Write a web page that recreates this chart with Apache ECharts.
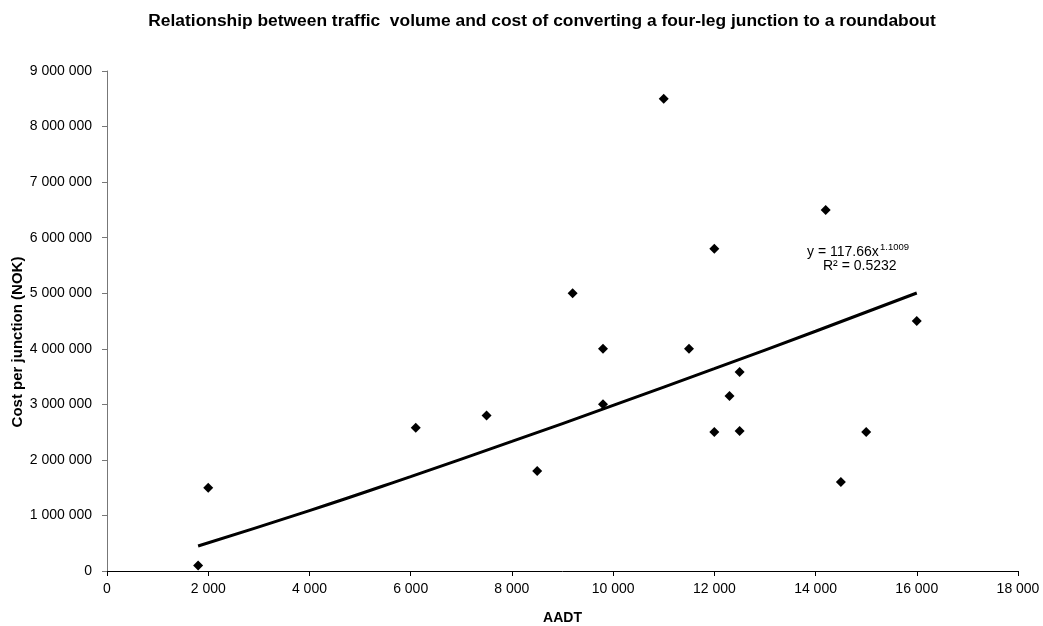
<!DOCTYPE html>
<html>
<head>
<meta charset="utf-8">
<script src="https://cdn.jsdelivr.net/npm/echarts@6/dist/echarts.min.js"></script>
<style>html,body{margin:0;padding:0;background:#fff}#c{width:1043px;height:626px}</style>
</head>
<body>
<div id="c"></div>
<script>
const aadt = [1800, 2000, 6100, 7500, 8500, 9200, 9800, 9800, 11000, 11500, 12000, 12000, 12300, 12500, 12500, 14200, 14500, 15000, 16000];
const cost = [100000, 1500000, 2580000, 2800000, 1800000, 5000000, 4000000, 3000000, 8500000, 4000000, 5800000, 2500000, 3150000, 3580000, 2520000, 6500000, 1600000, 2500000, 4500000];
const trendX = [1800, 4000, 6000, 8000, 10000, 12000, 14000, 16000];
const trendY = [451000, 1087000, 1700000, 2332000, 2980000, 3642000, 4316000, 5004000];
const title = 'Relationship between traffic  volume and cost of converting a four-leg junction to a roundabout';
const xName = 'AADT';
const yName = 'Cost per junction (NOK)';
const eqMain = 'y = 117.66x';
const eqSup = '1.1009';
const r2 = 'R² = 0.5232';

function fmt(v){ return String(Math.round(v)).replace(/\B(?=(\d{3})+(?!\d))/g, ' '); }

const chart = echarts.init(document.getElementById('c'));
const font = '"Liberation Sans", Arial, sans-serif';
chart.setOption({
  animation: false,
  backgroundColor: '#fff',
  textStyle: { fontFamily: font },
  title: { text: title, left: 537, top: 8, textAlign: 'center',
    textStyle: { fontSize: 17.4, fontWeight: 'bold', color: '#000', fontFamily: font } },
  grid: { left: 107, right: 25, top: 71, bottom: 55, outerBoundsMode: 'none', containLabel: false },
  xAxis: {
    type: 'value', min: 0, max: 18000, interval: 2000,
    name: xName, nameLocation: 'middle', nameGap: 40,
    nameTextStyle: { fontSize: 14, fontWeight: 'bold', color: '#000', fontFamily: font },
    axisLine: { lineStyle: { color: '#000', width: 1 } },
    axisTick: { show: true, length: 5, lineStyle: { color: '#000' } },
    axisLabel: { fontSize: 14, color: '#000', margin: 11, formatter: fmt, fontFamily: font },
    splitLine: { show: false }
  },
  yAxis: {
    type: 'value', min: 0, max: 9000000, interval: 1000000,
    axisLine: { show: true, lineStyle: { color: '#777', width: 1 } },
    axisTick: { show: true, length: 5, lineStyle: { color: '#777' } },
    axisLabel: { fontSize: 14, color: '#000', margin: 15, formatter: fmt, fontFamily: font },
    splitLine: { show: false }
  },
  series: [
    { type: 'line', data: trendX.map((x, i) => [x, trendY[i]]), smooth: true, showSymbol: false,
      lineStyle: { color: '#000', width: 3 }, z: 2 },
    { type: 'scatter', data: aadt.map((x, i) => [x, cost[i]]), symbol: 'diamond', symbolSize: [10, 10],
      itemStyle: { color: '#000', opacity: 1 }, z: 3 }
  ],
  graphic: [
    { type: 'text', x: 18, y: 342, rotation: Math.PI / 2, style: { text: yName, fontSize: 15, fontWeight: 'bold',
      fontFamily: font, fill: '#000', textAlign: 'center', textVerticalAlign: 'middle' } },
    { type: 'text', x: 807, y: 245, style: { text: eqMain, fontSize: 14, fontFamily: font, fill: '#000' } },
    { type: 'text', x: 880, y: 242, style: { text: eqSup, fontSize: 9.5, fontFamily: font, fill: '#000' } },
    { type: 'text', x: 823, y: 259, style: { text: r2, fontSize: 14, fontFamily: font, fill: '#000' } }
  ]
});
</script>
</body>
</html>
